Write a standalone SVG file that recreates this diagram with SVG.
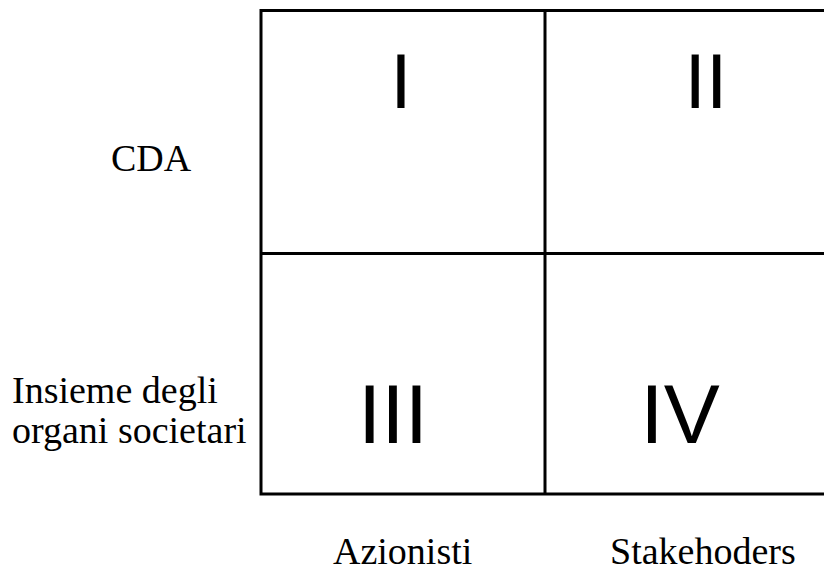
<svg xmlns="http://www.w3.org/2000/svg" width="824" height="576" viewBox="0 0 824 576">
<style>
.grid{fill:none;stroke:#000;stroke-width:3}
.lbl{font-family:"Liberation Serif","Times New Roman",serif;font-size:38px;fill:#000}
.num{font-family:"Liberation Sans",Arial,sans-serif;fill:#000;text-anchor:middle}
</style>
<rect width="824" height="576" fill="#fff"/>
<g id="grid">
<path class="grid" d="M830,10.5 H261 V494 H830 M545,10.5 V494 M261,253.5 H830"/>
</g>
<g id="q1"><text class="num" x="401" y="108" font-size="77">I</text></g>
<g id="q2"><text class="num" x="706" y="108" font-size="77">II</text></g>
<g id="q3"><text class="num" x="393" y="443" font-size="84">III</text></g>
<g id="q4"><text class="num" x="680" y="443" font-size="84">IV</text></g>
<g id="row1"><text class="lbl" x="111" y="171">CDA</text></g>
<g id="row2"><text class="lbl" x="12" y="403">Insieme degli</text><text class="lbl" x="12" y="443">organi societari</text></g>
<g id="col1"><text class="lbl" x="333" y="564">Azionisti</text></g>
<g id="col2"><text class="lbl" x="610" y="564">Stakehoders</text></g>
</svg>
